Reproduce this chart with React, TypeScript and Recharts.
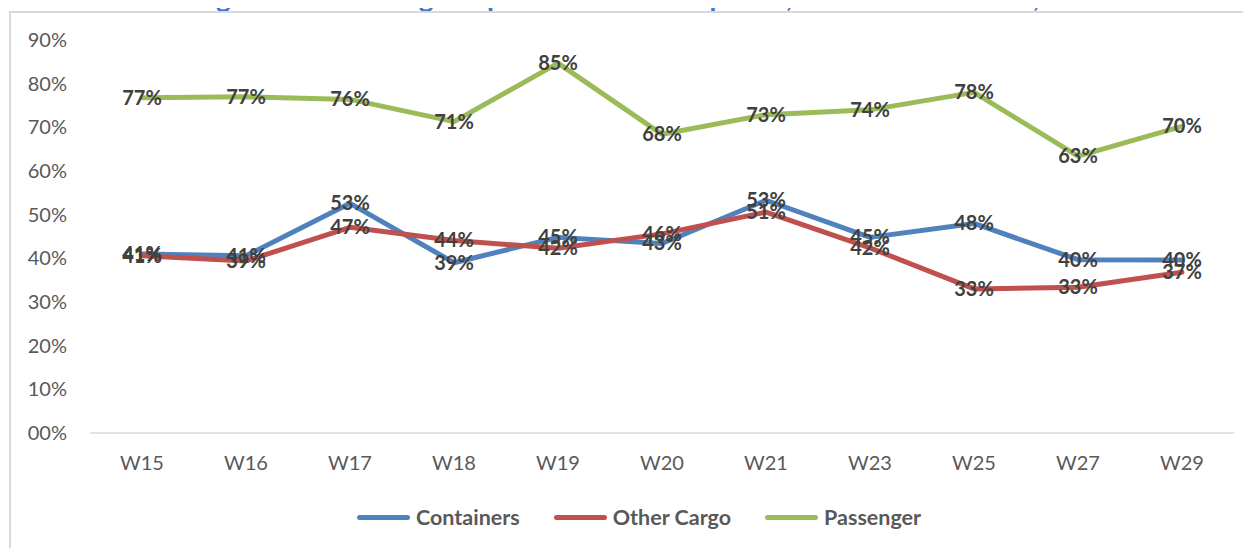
import { LabelList, Legend, Line, LineChart, XAxis, YAxis } from "recharts";

const weeks = ["W15", "W16", "W17", "W18", "W19", "W20", "W21", "W23", "W25", "W27", "W29"];
const containers = [41.0, 40.6, 52.6, 39.0, 44.8, 43.4, 53.3, 44.8, 48.0, 39.7, 39.6];
const otherCargo = [40.6, 39.4, 47.1, 44.1, 42.3, 45.6, 50.6, 42.4, 33.0, 33.4, 36.8];
const passenger = [76.8, 77.0, 76.4, 71.3, 84.7, 68.4, 72.9, 74.0, 78.0, 63.4, 70.2];
const yTicks = [0, 10, 20, 30, 40, 50, 60, 70, 80, 90];

const series = [
  { key: "containers", name: "Containers", color: "#4F81BD" },
  { key: "otherCargo", name: "Other Cargo", color: "#C0504D" },
  { key: "passenger", name: "Passenger", color: "#9BBB59" },
];

const data = weeks.map((week, i) => ({
  week,
  containers: containers[i],
  otherCargo: otherCargo[i],
  passenger: passenger[i],
}));

const FONT = "Lato, 'Open Sans', sans-serif";

const renderPct = (props: any) => {
  const { x, y, value } = props;
  if (x == null || y == null) return null;
  return (
    <text
      x={x}
      y={y + 7}
      textAnchor="middle"
      fontSize={20}
      fontWeight={700}
      fill="#404040"
      fontFamily={FONT}
    >
      {Math.round(value)}%
    </text>
  );
};

const ChartLegend = () => (
  <div style={{ display: "flex", alignItems: "center", height: 34, fontFamily: FONT }}>
    {series.map((s) => (
      <div key={s.key} style={{ display: "flex", alignItems: "center", marginRight: 34 }}>
        <span
          style={{
            display: "inline-block",
            width: 53,
            height: 5,
            borderRadius: 3,
            background: s.color,
            marginRight: 6,
          }}
        />
        <span style={{ fontSize: 21.5, fontWeight: 700, color: "#595959" }}>{s.name}</span>
      </div>
    ))}
  </div>
);

export default function App() {
  return (
    <div
      style={{
        position: "relative",
        width: 1251,
        height: 548,
        margin: "-8px 0 0 -8px",
        overflow: "hidden",
        background: "#fff",
        fontFamily: FONT,
      }}
    >
      <div
        style={{
          position: "absolute",
          top: -18,
          left: 193,
          fontSize: 28,
          lineHeight: "28px",
          fontWeight: 700,
          color: "#4775C2",
          whiteSpace: "nowrap",
        }}
      >
        Figure 8: Percentage of ports with less ship calls, Week 15-Week 29, 2020
      </div>
      <div
        style={{
          position: "absolute",
          top: 11,
          left: 9,
          right: 0,
          bottom: 0,
          borderTop: "2px solid #d9d9d9",
          borderLeft: "2px solid #d9d9d9",
        }}
      />
      <div style={{ position: "absolute", top: 0, left: 0 }}>
        <LineChart
          width={1251}
          height={548}
          data={data}
          margin={{ top: 40, right: 17, bottom: 51, left: 0 }}
        >
          <XAxis
            dataKey="week"
            padding={{ left: 52, right: 52 }}
            axisLine={{ stroke: "#d9d9d9", strokeWidth: 1.5 }}
            tickLine={false}
            tickSize={0}
            tickMargin={23}
            tick={{ fill: "#595959", fontSize: 20, fontFamily: FONT }}
          />
          <YAxis
            width={90}
            domain={[0, 90]}
            ticks={yTicks}
            axisLine={false}
            tickLine={false}
            tickSize={0}
            tickMargin={23}
            tick={{ fill: "#595959", fontSize: 20, fontFamily: FONT }}
            tickFormatter={(v: number) => (v === 0 ? "00%" : `${v}%`)}
          />
          <Legend
            verticalAlign="bottom"
            wrapperStyle={{ top: 500, left: 357, width: 700, height: 34 }}
            content={() => <ChartLegend />}
          />
          {series.map((s) => (
            <Line
              key={s.key}
              type="linear"
              dataKey={s.key}
              name={s.name}
              stroke={s.color}
              strokeWidth={5}
              strokeLinejoin="round"
              strokeLinecap="round"
              dot={false}
              activeDot={false}
              isAnimationActive={false}
            >
              <LabelList dataKey={s.key} content={renderPct} />
            </Line>
          ))}
        </LineChart>
      </div>
    </div>
  );
}
